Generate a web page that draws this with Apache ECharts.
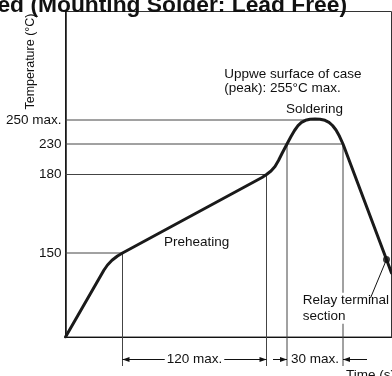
<!DOCTYPE html>
<html>
<head>
<meta charset="utf-8">
<script src="https://cdn.jsdelivr.net/npm/echarts@6/dist/echarts.min.js"></script>
<style>
  html, body { margin: 0; padding: 0; background: #fff; }
  #chart { width: 392px; height: 376px; }
</style>
</head>
<body>
<div id="chart"></div>
<script>
// Reflow soldering temperature profile (schematic diagram, axes not to scale)
const tempLabels = ['150', '180', '230', '250 max.'];
const levelPos = [84, 162.5, 193, 217];          // schematic height of each temperature level
const timePos = [57, 201, 221.5, 277.5];         // preheat start/end, soldering start/end
const spanLabels = ['120 max.', '30 max.'];

const profileX = [0, 38.5, 42, 46.5, 52, 57, 196.5, 201, 205.5, 209.5, 213, 217, 221.5, 225.5, 229, 232.5, 236, 240, 244.5, 249.5, 254.5, 259.5, 263.5, 267, 270.5, 274, 277.5, 321, 326];
const profileY = [0, 67, 72, 76.7, 81, 84, 159.5, 162.5, 166, 170.5, 176.5, 184.5, 193, 200.5, 206.5, 211.3, 214.6, 216.7, 217.7, 218, 217.7, 216.7, 214.7, 211.5, 207, 200.7, 193, 77.5, 64];

const relayPoint = [321, 77.5];

const FONT = '"Liberation Sans", Arial, Helvetica, sans-serif';
const INK = '#111';
const GUIDE = '#444';
const extBottom = -29;   // extension lines continue below the time axis
const dimLevel = -22.5;  // height of the dimension arrows
const peakReach = 240;   // where the 250 max. line meets the curve

const guideSegs = [
  [0, levelPos[3], peakReach, levelPos[3]],
  [0, levelPos[2], timePos[3], levelPos[2]],
  [0, levelPos[1], timePos[1], levelPos[1]],
  [0, levelPos[0], timePos[0], levelPos[0]],
  [timePos[0], levelPos[0], timePos[0], extBottom],
  [timePos[1], levelPos[1], timePos[1], extBottom],
  [timePos[2], levelPos[2], timePos[2], extBottom],
  [timePos[3], levelPos[2], timePos[3], extBottom]
];

function renderGuide(params, api) {
  const p1 = api.coord([api.value(0), api.value(1)]);
  const p2 = api.coord([api.value(2), api.value(3)]);
  return {
    type: 'line',
    shape: { x1: p1[0], y1: p1[1], x2: p2[0], y2: p2[1] },
    style: { stroke: GUIDE, lineWidth: 1 }
  };
}

function renderDims(params, api) {
  const a = api.coord([timePos[0], dimLevel]);
  const b = api.coord([timePos[1], dimLevel]);
  const c = api.coord([timePos[2], dimLevel]);
  const d = api.coord([timePos[3], dimLevel]);
  const y = a[1];
  const seg = (x1, x2) => ({ type: 'line', shape: { x1: x1, y1: y, x2: x2, y2: y }, style: { stroke: INK, lineWidth: 1 } });
  const head = (tx, dir) => ({
    type: 'polygon',
    shape: { points: [[tx, y], [tx - dir * 7, y - 2.5], [tx - dir * 7, y + 2.5]] },
    style: { fill: INK }
  });
  const label = (text, x, align) => ({
    type: 'text',
    style: {
      text: text, x: x, y: y, align: align, verticalAlign: 'middle',
      fontSize: 13.5, fontFamily: FONT, fill: INK,
      backgroundColor: '#fff', padding: [0, 2]
    }
  });
  const r = api.coord(relayPoint);
  return {
    type: 'group',
    children: [
      seg(a[0], b[0]), head(a[0], -1), head(b[0], 1),
      label(spanLabels[0], (a[0] + b[0]) / 2, 'center'),
      seg(c[0] - 14, c[0]), head(c[0], 1),
      seg(d[0], d[0] + 24), head(d[0], -1),
      label(spanLabels[1], c[0] + 2, 'left'),
      { type: 'line', shape: { x1: r[0], y1: r[1], x2: r[0] - 16, y2: r[1] + 38.5 }, style: { stroke: INK, lineWidth: 1 } }
    ]
  };
}

function tempLabelFor(v) {
  let best = 0;
  levelPos.forEach((p, i) => { if (Math.abs(p - v) < Math.abs(levelPos[best] - v)) best = i; });
  return Math.abs(levelPos[best] - v) < 0.5 ? tempLabels[best] : '';
}

const textStyle = { fontSize: 13.5, fontFamily: FONT, fill: INK };

const chart = echarts.init(document.getElementById('chart'), null, { renderer: 'canvas' });
chart.setOption({
  animation: false,
  backgroundColor: '#fff',
  grid: {
    left: 65.5, top: 11.5, right: 0.5, bottom: 39,
    show: true, borderColor: '#333', borderWidth: 1,
    containLabel: false, outerBoundsMode: 'none'
  },
  xAxis: {
    type: 'value', min: 0, max: 326,
    axisLine: { show: true, onZero: false, lineStyle: { color: INK, width: 1 } },
    axisTick: { show: false }, axisLabel: { show: false }, splitLine: { show: false }
  },
  yAxis: {
    type: 'value', min: 0, max: 325.5,
    axisLine: { show: true, onZero: false, lineStyle: { color: INK, width: 1.5 } },
    axisTick: { show: false }, splitLine: { show: false },
    axisLabel: {
      customValues: levelPos,
      formatter: tempLabelFor,
      margin: 4, fontSize: 13.5, fontFamily: FONT, color: INK
    }
  },
  graphic: [
    { type: 'text', z: 10, x: 347, y: 5.5,
      style: { text: 'Recommended (Mounting Solder: Lead Free)', align: 'right', verticalAlign: 'middle',
               fontSize: 22.8, fontWeight: 'bold', fontFamily: FONT, fill: INK } },
    { type: 'text', z: 10, x: 31, y: 61.5, rotation: Math.PI / 2,
      style: { text: 'Temperature (°C)', align: 'center', verticalAlign: 'middle', fontSize: 12.5, fontFamily: FONT, fill: INK } },
    { type: 'text', z: 10, x: 224.3, y: 66.9,
      style: Object.assign({ text: 'Uppwe surface of case\n(peak): 255°C max.', verticalAlign: 'top', lineHeight: 14.3 }, textStyle) },
    { type: 'text', z: 10, x: 286, y: 109,
      style: Object.assign({ text: 'Soldering', verticalAlign: 'middle' }, textStyle) },
    { type: 'text', z: 10, x: 164, y: 242.7,
      style: Object.assign({ text: 'Preheating', verticalAlign: 'middle' }, textStyle) },
    { type: 'text', z: 10, x: 302.7, y: 292.8,
      style: Object.assign({ text: 'Relay terminal\nsection', verticalAlign: 'top', lineHeight: 15.5,
                             backgroundColor: '#fff', padding: 0 }, textStyle) },
    { type: 'text', z: 10, x: 346, y: 375,
      style: Object.assign({ text: 'Time (s)', verticalAlign: 'middle' }, textStyle) }
  ],
  series: [
    {
      type: 'custom', z: 1, silent: true,
      renderItem: renderGuide,
      encode: { x: [0, 2], y: [1, 3] },
      data: guideSegs
    },
    {
      type: 'custom', z: 20, silent: true,
      renderItem: renderDims,
      data: [[0, 0]]
    },
    {
      type: 'line', z: 30, silent: true, clip: true,
      symbol: 'none', showSymbol: false,
      lineStyle: { color: '#1a1a1a', width: 3, join: 'round', cap: 'round' },
      data: profileX.map((x, i) => [x, profileY[i]])
    },
    {
      type: 'scatter', z: 40, silent: true,
      symbolSize: 7,
      itemStyle: { color: INK },
      data: [relayPoint]
    }
  ]
});
</script>
</body>
</html>
